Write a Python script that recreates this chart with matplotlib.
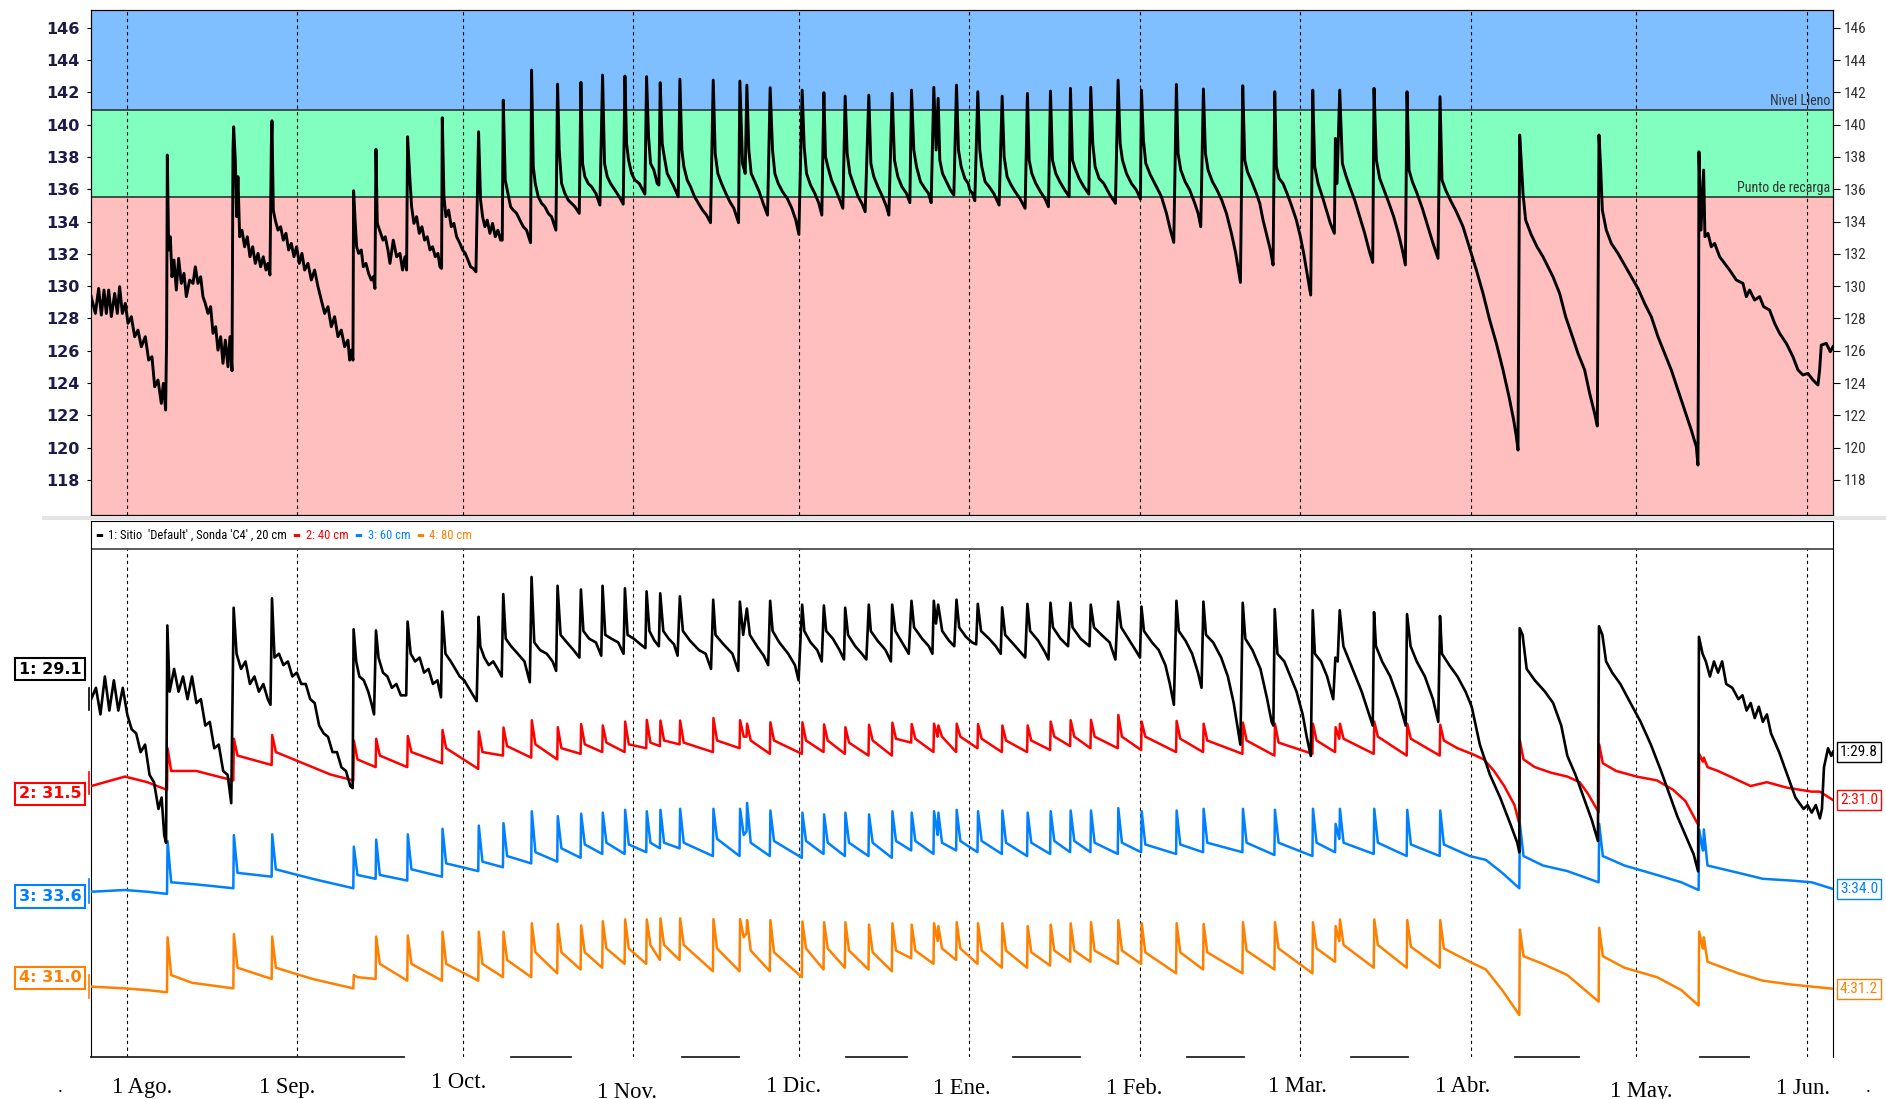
import numpy as np
import matplotlib
matplotlib.use("Agg")
import matplotlib.pyplot as plt
import matplotlib.dates as mdates
from matplotlib import font_manager
from matplotlib.lines import Line2D
from matplotlib.patches import Rectangle
from matplotlib.offsetbox import TextArea, HPacker, AnchoredOffsetbox

# ============== Data (days after 1 Aug 2019) ==============

START = np.datetime64("2019-08-01T00:00")
X_FIRST, X_LAST = -6.48, 309.8

FULL_LEVEL = 140.9      # Nivel Lleno
REFILL_LEVEL = 135.5    # Punto de recarga
TOP_TICKS = list(range(118, 147, 2))

# suma de perfiles (panel superior)
SUM_TRACE = [
    (-6.45, 129.35), (-5.69, 128.31), (-5.09, 129.86), (-4.60, 128.21), (-4.12, 129.76),
    (-3.70, 128.31), (-3.27, 129.76), (-2.79, 128.11), (-2.18, 129.55), (-1.70, 128.31),
    (-1.28, 129.97), (-0.79, 128.31), (-0.25, 128.93), (0.24, 127.70), (0.84, 128.11),
    (1.45, 126.87), (2.05, 127.28), (2.66, 126.25), (3.38, 126.87), (3.99, 125.42),
    (4.59, 125.63), (5.08, 123.77), (5.68, 124.19), (6.29, 122.74), (6.65, 123.98),
    (7.07, 122.33), (7.25, 126.87), (7.38, 138.12), (7.62, 132.24), (7.92, 133.06),
    (8.22, 130.58), (8.59, 131.62), (9.01, 129.76), (9.43, 131.72), (9.92, 130.17),
    (10.40, 130.79), (10.83, 129.35), (11.43, 130.38), (12.04, 130.17), (12.46, 131.20),
    (12.94, 130.17), (13.43, 130.58), (13.85, 129.35), (14.27, 128.93), (14.76, 128.31),
    (15.24, 128.73), (15.67, 127.08), (16.15, 127.49), (16.57, 126.04), (17.06, 126.87),
    (17.48, 125.22), (17.91, 126.66), (18.39, 125.01), (18.75, 126.87), (19.12, 124.76),
    (19.30, 138.43), (19.42, 139.87), (19.72, 137.81), (19.96, 134.30), (20.20, 136.78),
    (20.51, 133.06), (20.93, 133.47), (21.41, 132.44), (21.90, 133.06), (22.38, 131.82),
    (22.87, 132.44), (23.35, 131.41), (23.84, 132.03), (24.32, 131.20), (24.80, 131.82),
    (25.29, 131.00), (25.65, 131.41), (26.01, 130.69), (26.26, 138.63), (26.38, 140.24),
    (26.62, 134.71), (26.98, 134.09), (27.47, 133.47), (27.95, 133.68), (28.43, 132.85),
    (28.92, 133.27), (29.40, 132.24), (29.89, 132.65), (30.37, 131.82), (30.85, 132.44),
    (31.34, 131.41), (31.82, 132.03), (32.31, 131.00), (32.91, 131.41), (33.52, 130.38),
    (34.12, 131.00), (34.73, 129.97), (35.33, 129.14), (35.94, 128.31), (36.54, 128.73),
    (37.15, 127.49), (37.75, 128.11), (38.36, 126.87), (38.96, 127.28), (39.57, 126.25),
    (40.17, 126.66), (40.48, 125.42), (40.78, 126.04), (41.08, 125.42), (41.20, 135.91),
    (41.50, 133.89), (41.75, 132.44), (42.11, 132.03), (42.59, 132.24), (42.96, 131.20),
    (43.44, 131.41), (43.92, 130.79), (44.41, 130.38), (44.77, 130.58), (45.07, 129.86),
    (45.26, 138.47), (45.50, 133.89), (45.92, 133.47), (46.53, 132.85), (46.95, 133.06),
    (47.43, 132.24), (47.80, 131.41), (48.40, 132.85), (49.01, 131.82), (49.61, 132.03),
    (50.09, 131.00), (50.52, 131.82), (50.82, 131.00), (51.00, 139.25), (51.43, 136.57),
    (51.73, 134.92), (52.15, 133.89), (52.64, 134.30), (53.12, 133.27), (53.60, 133.68),
    (54.09, 132.85), (54.57, 133.06), (55.06, 132.24), (55.54, 132.44), (56.03, 131.82),
    (56.51, 132.03), (56.87, 131.20), (57.17, 131.10), (57.30, 140.43), (57.60, 135.54),
    (57.96, 134.30), (58.45, 134.71), (58.93, 133.68), (59.41, 133.89), (59.90, 133.06),
    (60.50, 132.65), (60.99, 132.24), (61.47, 132.03), (61.96, 131.62), (62.44, 131.20),
    (62.92, 131.10), (63.41, 130.89), (63.65, 135.33), (63.89, 139.56), (64.25, 135.33),
    (64.62, 134.30), (65.04, 133.68), (65.46, 134.09), (65.95, 133.27), (66.43, 133.89),
    (66.92, 133.06), (67.40, 133.47), (67.89, 132.85), (68.19, 132.85), (68.37, 141.52),
    (68.73, 136.57), (69.22, 135.74), (69.70, 134.92), (70.18, 134.71), (70.79, 134.51),
    (71.39, 134.09), (72.00, 133.68), (72.60, 133.47), (73.33, 132.69), (73.51, 143.38),
    (73.82, 137.40), (74.18, 136.36), (74.72, 135.54), (75.33, 135.13), (75.93, 134.92),
    (76.54, 134.51), (77.14, 134.30), (77.93, 133.47), (78.23, 142.51), (78.53, 138.43),
    (78.96, 136.36), (79.56, 135.74), (80.17, 135.33), (80.77, 135.13), (81.38, 134.92),
    (82.17, 134.51), (82.47, 142.62), (82.77, 137.60), (83.19, 136.78), (83.80, 136.36),
    (84.40, 136.16), (85.19, 135.74), (85.92, 135.02), (86.40, 143.07), (86.76, 137.60),
    (87.25, 136.78), (87.85, 136.36), (88.64, 135.95), (89.43, 135.54), (90.15, 135.08),
    (90.46, 143.01), (90.76, 138.84), (91.12, 137.81), (91.67, 136.98), (92.27, 136.57),
    (93.06, 136.36), (94.09, 135.70), (94.39, 142.97), (94.75, 139.25), (95.11, 137.60),
    (95.72, 137.19), (96.32, 136.36), (96.63, 136.26), (96.87, 142.60), (97.23, 138.84),
    (97.60, 138.02), (98.14, 136.98), (98.75, 136.57), (99.35, 136.16), (100.14, 135.54),
    (100.44, 142.82), (100.80, 138.43), (101.16, 137.40), (101.77, 136.57), (102.37, 136.16),
    (103.10, 135.54), (103.82, 135.13), (104.55, 134.71), (105.28, 134.40), (106.00, 133.93),
    (106.49, 142.76), (106.85, 138.22), (107.33, 136.98), (108.00, 136.36), (108.79, 135.74),
    (109.51, 135.23), (110.24, 134.82), (111.09, 133.93), (111.33, 142.70), (111.81, 137.60),
    (112.30, 136.98), (112.60, 142.45), (112.96, 138.43), (113.38, 136.98), (114.05, 136.47),
    (114.84, 135.85), (115.56, 135.13), (116.35, 134.40), (116.83, 142.29), (117.26, 138.43),
    (117.68, 136.98), (118.29, 136.36), (119.07, 135.85), (119.92, 135.44), (120.77, 134.82),
    (121.49, 134.09), (122.04, 133.21), (122.64, 142.14), (123.01, 138.63), (123.43, 136.98),
    (124.16, 136.26), (124.94, 135.74), (125.67, 135.13), (126.21, 134.40), (126.58, 141.98),
    (126.88, 138.02), (127.30, 137.40), (127.97, 136.57), (128.75, 135.95), (129.48, 135.33),
    (130.03, 134.82), (130.45, 141.77), (130.81, 138.22), (131.30, 136.98), (132.02, 136.26),
    (132.81, 135.54), (133.47, 135.13), (134.08, 134.61), (134.74, 141.83), (135.11, 137.60),
    (135.65, 136.78), (136.38, 136.16), (137.23, 135.54), (137.95, 134.92), (138.38, 134.40),
    (138.98, 141.94), (139.40, 137.81), (140.01, 136.78), (140.74, 136.16), (141.58, 135.74),
    (142.19, 135.17), (142.49, 142.14), (142.91, 138.43), (143.40, 137.40), (144.12, 136.47),
    (144.91, 136.05), (145.58, 135.74), (146.06, 135.17), (146.54, 142.31), (146.97, 138.43),
    (147.33, 141.63), (147.63, 137.81), (148.12, 136.98), (148.84, 136.47), (149.57, 135.95),
    (150.18, 135.64), (150.66, 142.45), (151.02, 138.43), (151.51, 137.40), (152.17, 136.67),
    (152.78, 136.36), (153.08, 135.95), (153.56, 135.74), (153.98, 135.29), (154.53, 142.04),
    (154.89, 138.43), (155.25, 137.40), (155.86, 136.47), (156.59, 136.16), (157.43, 135.74),
    (158.40, 135.02), (158.95, 141.77), (159.31, 138.02), (159.85, 136.78), (160.58, 136.26),
    (161.31, 135.85), (162.15, 135.44), (163.12, 134.82), (163.54, 141.94), (163.85, 137.81),
    (164.33, 136.98), (165.06, 136.36), (165.90, 135.85), (166.69, 135.44), (167.36, 134.92),
    (167.72, 142.08), (168.08, 137.81), (168.69, 136.98), (169.41, 136.47), (170.32, 135.95),
    (171.11, 135.54), (171.35, 142.25), (171.71, 137.81), (172.20, 137.29), (172.92, 136.67),
    (173.77, 136.16), (174.68, 135.70), (175.04, 142.31), (175.40, 138.84), (175.83, 137.40),
    (176.55, 136.67), (177.40, 136.36), (178.37, 135.74), (179.52, 135.13), (180.00, 142.76),
    (180.37, 138.84), (180.79, 137.81), (181.52, 136.98), (182.42, 136.36), (183.33, 135.95),
    (184.06, 135.39), (184.24, 142.14), (184.60, 139.05), (185.03, 137.60), (185.87, 136.88),
    (186.96, 136.16), (187.87, 135.54), (188.78, 134.51), (189.50, 133.47), (190.11, 132.71),
    (190.59, 142.49), (190.89, 138.22), (191.38, 137.19), (192.17, 136.47), (193.01, 135.95),
    (193.92, 135.13), (194.53, 134.51), (195.01, 133.68), (195.49, 142.21), (195.86, 138.22),
    (196.34, 137.19), (197.13, 136.47), (197.97, 135.95), (198.82, 135.33), (199.67, 134.51),
    (200.58, 133.27), (201.36, 132.03), (202.21, 130.23), (202.63, 142.41), (203.00, 137.81),
    (203.48, 137.09), (204.27, 136.47), (205.11, 135.74), (205.72, 135.13), (206.32, 134.09),
    (207.05, 133.06), (207.65, 132.24), (208.14, 131.31), (208.44, 142.04), (208.74, 137.40),
    (209.23, 136.67), (209.95, 136.36), (210.68, 135.74), (211.46, 135.02), (212.37, 134.09),
    (213.10, 133.06), (213.70, 132.03), (214.31, 130.79), (214.97, 129.45), (215.34, 142.14),
    (215.70, 137.40), (216.31, 136.36), (217.09, 135.54), (217.82, 134.71), (218.54, 133.89),
    (219.27, 133.27), (219.45, 139.15), (219.75, 136.36), (220.24, 142.14), (220.72, 137.60),
    (221.33, 136.88), (222.05, 136.16), (222.96, 135.33), (223.87, 134.30), (224.78, 133.27),
    (225.56, 132.24), (226.23, 131.47), (226.47, 142.25), (226.89, 137.81), (227.50, 136.67),
    (228.29, 135.95), (229.19, 135.13), (230.04, 134.30), (230.89, 133.27), (231.61, 132.24),
    (232.16, 131.31), (232.46, 142.04), (232.82, 137.19), (233.43, 136.47), (234.28, 135.74),
    (235.24, 134.82), (236.27, 133.68), (237.18, 132.65), (238.09, 131.72), (238.45, 141.73),
    (238.81, 136.57), (239.48, 135.95), (240.33, 135.33), (241.42, 134.61), (242.63, 133.68),
    (243.84, 132.34), (245.05, 131.00), (246.26, 129.55), (247.47, 127.90), (248.68, 126.46),
    (249.89, 124.81), (250.98, 123.15), (251.82, 121.71), (252.31, 120.68), (252.61, 119.85),
    (252.73, 127.70), (252.91, 139.36), (253.22, 137.60), (253.52, 135.74), (254.00, 134.09),
    (255.03, 133.17), (256.06, 132.44), (257.15, 131.82), (258.06, 131.20), (258.96, 130.58),
    (260.17, 129.55), (261.26, 128.11), (262.29, 127.08), (263.50, 125.84), (264.71, 124.81),
    (265.62, 123.36), (266.52, 122.12), (267.01, 121.34), (267.13, 128.52), (267.31, 139.36),
    (267.61, 137.40), (267.92, 134.71), (268.64, 133.47), (269.55, 132.65), (270.76, 132.03),
    (271.97, 131.31), (273.18, 130.58), (274.39, 129.86), (275.60, 128.93), (276.81, 128.11),
    (278.02, 126.87), (279.23, 125.84), (280.44, 124.81), (281.65, 123.57), (282.86, 122.33),
    (284.07, 121.09), (284.98, 120.06), (285.28, 118.92), (285.40, 128.52), (285.46, 138.32),
    (285.83, 133.47), (286.31, 137.19), (286.55, 133.06), (287.10, 133.27), (287.70, 132.44),
    (288.31, 132.65), (289.22, 131.82), (290.12, 131.41), (291.03, 131.00), (292.24, 130.38),
    (293.45, 130.17), (294.06, 129.35), (294.66, 129.76), (295.57, 129.14), (296.48, 129.35),
    (297.20, 128.73), (298.29, 128.52), (299.20, 127.70), (300.11, 127.08), (301.32, 126.46),
    (302.53, 125.63), (303.44, 124.81), (304.34, 124.50), (305.25, 124.60), (306.16, 124.19),
    (307.07, 123.88), (307.37, 124.81), (307.67, 126.35), (308.58, 126.46), (309.31, 125.94),
    (309.79, 126.25),
]

# sensor 1 (20 cm), panel inferior
S20_TRACE = [
    (-6.45, 33.09), (-5.58, 33.80), (-4.77, 32.14), (-3.96, 34.51), (-3.15, 32.38),
    (-2.33, 34.27), (-1.52, 32.38), (-0.71, 33.80), (0.10, 32.14), (0.91, 31.20),
    (1.72, 30.96), (2.53, 29.78), (3.34, 30.25), (4.15, 28.36), (4.96, 27.89),
    (5.77, 26.23), (6.34, 26.94), (6.82, 24.58), (7.15, 24.11), (7.38, 37.70),
    (7.80, 33.56), (8.61, 34.98), (9.42, 33.56), (10.23, 34.51), (11.04, 33.09),
    (11.85, 34.51), (12.66, 32.85), (13.47, 33.09), (14.28, 31.44), (15.09, 31.67),
    (15.90, 30.02), (16.71, 30.25), (17.52, 28.60), (18.33, 28.36), (18.98, 26.59),
    (19.42, 38.81), (19.95, 35.93), (20.76, 34.98), (21.57, 35.45), (22.38, 34.04),
    (23.19, 34.51), (24.00, 33.56), (24.81, 34.04), (25.62, 33.09), (26.11, 32.74),
    (26.38, 39.40), (26.84, 35.69), (27.65, 35.93), (28.46, 35.22), (29.27, 35.45),
    (30.08, 34.51), (30.89, 34.75), (31.70, 34.04), (32.51, 34.04), (33.32, 33.09),
    (34.13, 32.85), (34.94, 31.44), (35.75, 30.96), (36.56, 30.73), (37.37, 29.78),
    (38.18, 29.78), (38.99, 28.83), (39.81, 28.60), (40.62, 27.65), (41.02, 27.53),
    (41.20, 37.46), (41.67, 35.45), (42.24, 34.51), (43.05, 34.27), (43.86, 33.56),
    (44.42, 32.85), (44.91, 32.14), (45.26, 37.39), (45.72, 35.69), (46.53, 34.75),
    (47.34, 34.51), (48.15, 33.80), (48.96, 34.04), (49.77, 33.33), (50.75, 33.33),
    (51.00, 37.94), (51.56, 35.93), (52.37, 35.45), (53.18, 35.69), (53.99, 34.75),
    (54.80, 34.98), (55.61, 34.04), (56.42, 34.27), (57.07, 33.21), (57.30, 38.57),
    (57.88, 35.93), (58.85, 35.45), (59.66, 34.98), (60.47, 34.51), (61.28, 34.27),
    (62.09, 33.80), (62.90, 33.33), (63.55, 32.97), (63.89, 38.24), (64.20, 36.40),
    (64.93, 35.69), (65.74, 35.22), (66.55, 35.45), (67.36, 34.98), (68.09, 34.51),
    (68.37, 39.66), (68.82, 36.87), (69.79, 36.40), (71.01, 35.93), (72.22, 35.45),
    (73.19, 34.15), (73.51, 40.73), (74.00, 36.64), (75.06, 36.16), (76.27, 35.93),
    (77.33, 35.45), (77.97, 34.86), (78.23, 40.18), (78.78, 37.11), (79.92, 36.64),
    (81.13, 36.16), (82.19, 35.69), (82.47, 39.95), (82.92, 37.35), (83.97, 36.87),
    (85.19, 36.64), (86.16, 35.81), (86.40, 40.18), (86.89, 37.11), (88.02, 36.87),
    (89.24, 36.64), (90.21, 35.93), (90.46, 40.02), (90.94, 37.11), (92.08, 36.87),
    (93.29, 36.52), (94.18, 36.28), (94.39, 39.83), (94.91, 37.35), (95.81, 36.75),
    (96.62, 36.40), (96.87, 39.71), (97.43, 37.35), (98.40, 36.87), (99.37, 36.52),
    (100.02, 35.81), (100.44, 39.52), (100.99, 37.35), (102.28, 36.75), (103.90, 36.16),
    (105.12, 35.93), (106.09, 34.98), (106.49, 39.31), (106.90, 37.11), (108.36, 36.52),
    (109.98, 35.93), (111.04, 34.86), (111.33, 39.19), (111.93, 37.11), (112.60, 38.76),
    (113.14, 37.11), (114.44, 36.40), (115.66, 35.81), (116.47, 35.22), (116.83, 39.24),
    (117.28, 37.35), (118.49, 36.64), (120.11, 35.93), (121.33, 35.22), (121.98, 34.27),
    (122.64, 39.00), (123.03, 37.35), (124.16, 36.64), (125.38, 36.16), (126.19, 35.45),
    (126.58, 38.95), (127.00, 37.35), (128.22, 36.87), (129.43, 36.16), (130.24, 35.57),
    (130.45, 38.81), (130.97, 37.11), (132.27, 36.40), (133.48, 35.93), (134.29, 35.57),
    (134.74, 39.00), (135.10, 37.35), (136.32, 36.75), (137.78, 36.16), (138.75, 35.45),
    (138.98, 39.00), (139.56, 37.35), (140.78, 36.64), (141.99, 35.93), (142.49, 39.24),
    (142.96, 37.58), (144.42, 36.87), (145.64, 36.40), (146.29, 35.93), (146.54, 39.24),
    (146.94, 37.82), (147.33, 39.00), (148.07, 37.35), (149.29, 36.75), (150.26, 36.40),
    (150.66, 39.31), (151.15, 37.58), (152.37, 36.99), (153.50, 36.64), (154.23, 36.52),
    (154.53, 39.05), (155.12, 37.35), (156.58, 36.87), (157.79, 36.40), (158.69, 35.93),
    (158.95, 38.83), (159.50, 37.11), (161.04, 36.52), (162.25, 36.04), (163.14, 35.69),
    (163.54, 39.05), (164.03, 37.35), (165.49, 36.75), (166.71, 36.04), (167.36, 35.57),
    (167.72, 39.12), (168.17, 37.58), (169.55, 36.87), (170.92, 36.40), (171.35, 39.12),
    (171.73, 37.58), (173.19, 36.87), (174.81, 36.40), (175.04, 39.00), (175.62, 37.58),
    (177.00, 37.11), (178.46, 36.64), (179.51, 35.57), (180.00, 39.19), (180.57, 37.58),
    (181.86, 36.87), (183.16, 36.16), (183.97, 35.69), (184.24, 38.88), (184.70, 37.35),
    (186.16, 36.64), (187.38, 36.16), (188.59, 35.22), (189.40, 34.04), (190.13, 32.74),
    (190.59, 39.24), (191.02, 37.35), (192.24, 36.75), (193.45, 35.93), (194.50, 34.75),
    (195.15, 33.80), (195.49, 39.19), (195.96, 37.11), (197.26, 36.64), (198.72, 35.69),
    (199.93, 34.51), (200.99, 32.85), (201.64, 31.44), (202.20, 30.25), (202.63, 39.12),
    (203.10, 36.87), (204.39, 36.16), (205.85, 34.98), (207.07, 33.09), (207.88, 31.67),
    (208.19, 31.44), (208.44, 38.72), (208.93, 35.93), (210.18, 35.45), (211.29, 34.51),
    (212.40, 33.56), (213.51, 32.14), (214.25, 30.73), (214.99, 29.54), (215.34, 38.65),
    (215.73, 35.93), (216.84, 35.45), (217.95, 34.51), (219.06, 33.09), (219.45, 35.69),
    (219.87, 35.45), (220.24, 38.65), (220.91, 36.40), (222.02, 35.45), (223.12, 34.51),
    (224.23, 33.56), (225.34, 32.38), (226.23, 31.44), (226.47, 38.53), (226.82, 36.40),
    (227.93, 35.45), (229.41, 34.51), (230.89, 33.09), (232.22, 31.44), (232.46, 38.41),
    (233.11, 36.40), (234.22, 35.45), (235.70, 34.51), (237.17, 33.09), (238.13, 31.67),
    (238.45, 38.29), (238.80, 35.93), (240.13, 35.22), (241.61, 34.51), (243.09, 33.56),
    (244.20, 32.62), (245.68, 30.25), (247.52, 28.36), (249.37, 26.94), (251.22, 25.29),
    (252.48, 24.11), (252.85, 23.52), (252.91, 37.53), (253.44, 37.11), (254.18, 34.98),
    (255.66, 34.27), (257.51, 33.56), (258.99, 32.85), (260.46, 31.44), (261.57, 29.54),
    (263.05, 28.36), (264.53, 26.94), (266.01, 25.53), (267.12, 24.23), (267.31, 37.65),
    (267.93, 37.11), (268.60, 35.45), (269.71, 34.75), (271.19, 34.04), (273.03, 32.85),
    (274.88, 31.67), (276.73, 30.25), (278.58, 28.60), (280.06, 27.18), (281.54, 25.76),
    (283.02, 24.58), (284.49, 23.40), (285.31, 22.33), (285.46, 36.99), (286.12, 35.93),
    (286.71, 35.45), (287.46, 34.51), (288.19, 35.45), (288.93, 34.75), (289.67, 35.45),
    (290.41, 34.04), (291.52, 33.80), (292.63, 33.09), (293.37, 33.33), (294.11, 32.38),
    (294.85, 32.85), (295.59, 31.91), (296.33, 32.62), (297.06, 31.67), (297.80, 32.14),
    (298.54, 30.96), (300.02, 29.78), (301.50, 28.36), (302.98, 26.94), (304.46, 26.23),
    (305.20, 26.47), (305.94, 26.00), (306.68, 26.47), (307.42, 25.64), (307.79, 26.23),
    (308.16, 28.83), (308.90, 30.02), (309.49, 29.54), (309.80, 29.80),
]

# riegos: dias de cada pico
EVENT_DAYS = [
    7.38, 19.42, 26.38, 41.20, 45.26, 51.00, 57.30, 63.89, 68.37, 73.51,
    78.23, 82.47, 86.40, 90.46, 94.39, 96.87, 100.44, 106.49, 111.33, 112.60,
    116.83, 122.64, 126.58, 130.45, 134.74, 138.98, 142.49, 146.54, 147.33, 150.66,
    154.53, 158.95, 163.54, 167.72, 171.35, 175.04, 180.00, 184.24, 190.59, 195.49,
    202.63, 208.44, 215.34, 219.45, 220.24, 226.47, 232.46, 238.45, 252.91, 267.31,
    285.46, 286.31,
]

# sensor 2 (40 cm): valor antes del pico, pico, y poco despues
S40_LOW = [
    31.29, 31.56, 32.00, 31.56, 31.94, 31.94, 32.05, 31.89, 32.27, 32.21,
    32.16, 32.32, 32.37, 32.37, 32.48, 32.54, 32.59, 32.37, 32.48, 32.81,
    32.32, 32.32, 32.37, 32.32, 32.27, 32.27, 32.64, 32.37, 32.86, 32.37,
    32.48, 32.37, 32.37, 32.43, 32.54, 32.48, 32.48, 32.43, 32.37, 32.37,
    32.32, 32.27, 32.32, 32.37, 32.81, 32.32, 32.27, 32.27, 30.32, 30.65,
    30.27, 32.10,
]
S40_PEAK = [
    32.48, 32.75, 32.86, 32.70, 32.75, 32.83, 33.00, 32.96, 33.07, 33.28,
    33.08, 33.17, 33.13, 33.24, 33.29, 33.27, 33.27, 33.34, 33.28, 33.18,
    33.22, 33.22, 33.16, 33.08, 33.15, 33.21, 33.17, 33.18, 33.13, 33.18,
    33.17, 33.13, 33.13, 33.24, 33.28, 33.29, 33.43, 33.24, 33.26, 33.18,
    33.21, 33.18, 33.18, 33.08, 33.18, 33.24, 33.18, 33.15, 32.70, 32.59,
    32.32, 32.21,
]
S40_AFTER = [
    31.83, 32.27, 32.37, 32.16, 32.27, 32.37, 32.48, 32.37, 32.54, 32.59,
    32.48, 32.59, 32.64, 32.59, 32.64, 32.70, 32.64, 32.70, 32.81, 32.70,
    32.70, 32.70, 32.70, 32.64, 32.70, 32.75, 32.75, 32.81, 32.81, 32.81,
    32.75, 32.70, 32.70, 32.81, 32.81, 32.81, 32.81, 32.81, 32.75, 32.70,
    32.70, 32.64, 32.70, 32.75, 32.75, 32.81, 32.75, 32.70, 32.16, 32.05,
    32.10, 31.94,
]
S40_EXTRA_DAYS = [
    -6.45, -0.31, 3.74, 12.66, 15.09, 33.73, 36.97, 241.61, 244.20, 246.41,
    248.26, 250.11, 251.96, 255.66, 258.61, 261.57, 263.79, 265.27, 270.44, 274.14,
    277.84, 280.79, 283.01, 288.93, 292.63, 294.84, 297.80, 301.50, 305.93, 307.41,
    309.80,
]
S40_EXTRA_VALS = [
    31.40, 31.67, 31.51, 31.83, 31.73, 31.94, 31.73, 32.48, 32.32, 32.16,
    31.83, 31.40, 30.86, 31.94, 31.78, 31.67, 31.51, 31.19, 31.83, 31.67,
    31.56, 31.29, 30.97, 31.83, 31.56, 31.40, 31.51, 31.35, 31.24, 31.24,
    31.00,
]

# sensor 3 (60 cm)
S60_LOW = [
    33.86, 34.02, 34.35, 34.02, 34.29, 34.24, 34.35, 34.51, 34.62, 34.73,
    34.78, 34.89, 35.00, 35.00, 35.05, 35.16, 35.16, 34.94, 34.94, 35.64,
    34.94, 34.89, 35.00, 34.94, 34.94, 34.89, 35.10, 35.00, 35.64, 35.10,
    35.05, 35.00, 34.94, 35.00, 35.05, 35.05, 35.00, 35.05, 35.00, 35.05,
    35.05, 34.97, 34.94, 35.05, 35.43, 35.00, 34.94, 34.94, 34.02, 34.19,
    33.97, 35.10,
]
S60_PEAK = [
    35.37, 35.54, 35.56, 35.21, 35.41, 35.56, 35.72, 35.81, 35.88, 36.22,
    36.08, 36.15, 36.18, 36.26, 36.22, 36.26, 36.29, 36.29, 36.29, 36.46,
    36.24, 36.18, 36.13, 36.18, 36.13, 36.22, 36.18, 36.22, 36.18, 36.26,
    36.22, 36.24, 36.18, 36.22, 36.24, 36.24, 36.31, 36.22, 36.24, 36.29,
    36.29, 36.26, 36.29, 35.86, 36.29, 36.29, 36.26, 36.24, 35.86, 35.86,
    35.70, 35.70,
]
S60_AFTER = [
    34.19, 34.46, 34.56, 34.40, 34.40, 34.56, 34.73, 34.78, 34.94, 35.05,
    35.16, 35.27, 35.32, 35.27, 35.32, 35.32, 35.32, 35.43, 35.54, 35.32,
    35.37, 35.37, 35.32, 35.32, 35.32, 35.37, 35.37, 35.54, 35.32, 35.37,
    35.37, 35.32, 35.32, 35.37, 35.37, 35.32, 35.32, 35.27, 35.27, 35.32,
    35.32, 35.32, 35.32, 35.43, 35.32, 35.32, 35.27, 35.27, 34.94, 34.94,
    35.10, 34.67,
]
S60_EXTRA_DAYS = [
    -6.45, -0.31, 3.74, 12.66, 33.73, 243.83, 246.78, 249.74, 257.13, 261.57,
    271.92, 277.84, 282.27, 292.63, 297.06, 302.23, 305.93, 309.80,
]
S60_EXTRA_VALS = [
    33.92, 33.97, 33.92, 34.13, 34.29, 34.94, 34.83, 34.46, 34.67, 34.51,
    34.67, 34.40, 34.19, 34.46, 34.29, 34.24, 34.19, 34.00,
]

# sensor 4 (80 cm)
S80_LOW = [
    31.10, 31.21, 31.48, 31.21, 31.48, 31.43, 31.43, 31.43, 31.53, 31.53,
    31.64, 31.75, 31.80, 31.91, 31.91, 32.02, 32.02, 31.70, 31.70, 32.78,
    31.70, 31.53, 31.75, 31.80, 31.75, 31.70, 32.07, 31.91, 32.67, 32.02,
    31.91, 31.80, 31.80, 31.86, 31.97, 31.97, 31.91, 31.91, 31.64, 31.75,
    31.64, 31.75, 31.64, 31.97, 32.56, 31.80, 31.80, 31.80, 30.45, 30.83,
    30.72, 32.35,
]
S80_PEAK = [
    32.67, 32.76, 32.69, 31.59, 32.69, 32.72, 32.83, 32.83, 32.83, 33.07,
    33.05, 33.01, 33.13, 33.18, 33.18, 33.21, 33.21, 33.19, 33.19, 33.16,
    33.16, 33.12, 33.10, 33.10, 33.03, 33.07, 33.03, 33.07, 32.99, 33.10,
    33.07, 33.07, 32.99, 33.03, 33.07, 33.10, 33.16, 33.07, 33.07, 33.05,
    33.10, 33.10, 33.10, 32.99, 33.18, 33.18, 33.16, 33.16, 32.89, 32.94,
    32.83, 32.67,
]
S80_AFTER = [
    31.59, 31.80, 31.80, 31.53, 31.91, 31.91, 31.91, 31.91, 32.02, 32.24,
    32.24, 32.24, 32.35, 32.35, 32.45, 32.45, 32.45, 32.35, 32.67, 32.29,
    32.24, 32.35, 32.35, 32.29, 32.24, 32.29, 32.29, 32.56, 32.35, 32.35,
    32.29, 32.29, 32.24, 32.29, 32.29, 32.29, 32.29, 32.24, 32.24, 32.24,
    32.29, 32.35, 32.35, 32.56, 32.45, 32.45, 32.40, 32.35, 32.13, 32.13,
    32.35, 31.97,
]
S80_EXTRA_DAYS = [
    -6.45, -0.31, 3.74, 11.85, 33.73, 243.83, 246.78, 249.74, 257.13, 261.57,
    271.92, 277.84, 282.27, 292.63, 297.06, 302.23, 309.80,
]
S80_EXTRA_VALS = [
    31.26, 31.21, 31.16, 31.37, 31.48, 31.97, 31.75, 31.16, 31.91, 31.59,
    31.80, 31.53, 31.16, 31.64, 31.43, 31.32, 31.20,
]

LEFT_READOUT = [29.1, 31.5, 33.6, 31.0]
LEGEND_TEXT = ["1: Sitio  'Default' , Sonda 'C4' , 20 cm", "2: 40 cm", "3: 60 cm", "4: 80 cm"]
MONTH_LABELS = ["1 Ago.", "1 Sep.", "1 Oct.", "1 Nov.", "1 Dic.", "1 Ene.",
                "1 Feb.", "1 Mar.", "1 Abr.", "1 May.", "1 Jun."]

# ============== Style ==============

W, H = 1886, 1099
BAND_COLORS = ["#80BFFF", "#80FFBF", "#FFBFBF"]
SERIES_COLORS = ["#000000", "#FF0000", "#0080FF", "#FF8000"]
# y range of each sensor's own (hidden) axis
SERIES_YLIM = [(10.72, 44.23), (23.66, 38.97), (29.20, 44.51), (29.25, 44.56)]
DASH = (0, (3, 3))

installed = {f.name for f in font_manager.fontManager.ttflist}
NARROW = next((n for n in ["Liberation Sans Narrow", "DejaVu Sans Condensed",
                           "Roboto Condensed", "Open Sans Condensed"] if n in installed), None)
NS = 1.0
if NARROW is None:
    NARROW, NS = "DejaVu Sans", 0.8
SERIF = "Liberation Serif"


def to_dates(days):
    secs = np.round(np.asarray(days, dtype=float) * 86400).astype(np.int64)
    return START + secs.astype("timedelta64[s]")


def rect(left, top, right, bottom):
    return [left / W, 1 - bottom / H, (right - left) / W, (bottom - top) / H]


def spike_trace(low, peak, after, extra_days, extra_vals):
    d = list(extra_days)
    v = list(extra_vals)
    for t, a, b, c in zip(EVENT_DAYS, low, peak, after):
        d += [t - 0.06, t + 0.04, t + 0.7]
        v += [a, b, c]
    order = np.argsort(d)
    return np.array(d)[order], np.array(v)[order]


XLIM = to_dates([X_FIRST, X_LAST])
MONTHS = np.arange(np.datetime64("2019-08"), np.datetime64("2020-07")).astype("datetime64[D]")

fig = plt.figure(figsize=(W / 100, H / 100), dpi=100)
fig.patch.set_facecolor("white")

# ============== Top panel ==============
ax = fig.add_axes(rect(91, 10.5, 1833, 515))
ytop, ybot = 147.07, 115.83
ax.axhspan(FULL_LEVEL, ytop, color=BAND_COLORS[0], lw=0, zorder=0)
ax.axhspan(REFILL_LEVEL, FULL_LEVEL, color=BAND_COLORS[1], lw=0, zorder=0)
ax.axhspan(ybot, REFILL_LEVEL, color=BAND_COLORS[2], lw=0, zorder=0)
ax.axhline(FULL_LEVEL, color="#333333", lw=1.2, zorder=1)
ax.axhline(REFILL_LEVEL, color="#333333", lw=1.2, zorder=1)

d, v = zip(*SUM_TRACE)
ax.plot(to_dates(d), v, color="black", lw=2.1, zorder=3)
ax.set_xlim(XLIM)
ax.set_ylim(ybot, ytop)
ax.xaxis.set_major_locator(mdates.MonthLocator())
ax.set_axisbelow(True)
ax.grid(axis="x", color="black", linestyle=DASH, lw=0.8)
ax.tick_params(axis="x", length=0, labelbottom=False)
ax.set_yticks(TOP_TICKS)
ax.set_yticklabels([str(t) for t in TOP_TICKS], fontweight="bold", fontsize=11.5, color="#1b1b45")
ax.tick_params(axis="y", direction="out", length=3, pad=5)

axr = ax.twinx()
axr.set_ylim(ybot, ytop)
axr.set_yticks(TOP_TICKS)
axr.set_yticklabels([str(t) for t in TOP_TICKS], family=NARROW, fontsize=11 * NS, color="#303030")
axr.tick_params(axis="y", direction="out", length=5, pad=3)

ax.annotate("Nivel Lleno", xy=(1, FULL_LEVEL), xycoords=("axes fraction", "data"),
            xytext=(-2, 1.5), textcoords="offset points", ha="right", va="bottom",
            family=NARROW, fontsize=10 * NS, color="#333333")
ax.annotate("Punto de recarga", xy=(1, REFILL_LEVEL), xycoords=("axes fraction", "data"),
            xytext=(-2, 1.5), textcoords="offset points", ha="right", va="bottom",
            family=NARROW, fontsize=10 * NS, color="#333333")

# gray strip between panels
fig.add_artist(Rectangle((42 / W, 1 - 519.5 / H), (W - 42) / W, 4 / H,
                         transform=fig.transFigure, color="#e4e4e4", lw=0))

# ============== Bottom panel ==============
SEP = (1057 - 549) / (1057 - 521)
bx = fig.add_axes(rect(91, 521, 1833, 1057))
bx.set_xlim(XLIM)
bx.set_ylim(0, 1)
bx.set_xticks([])
bx.set_yticks([])
bx.spines["bottom"].set_visible(False)
for m in MONTHS:
    bx.axvline(m, ymin=0, ymax=SEP, color="black", linestyle=DASH, lw=0.8)
bx.axhline(SEP, color="#404040", lw=1.2)

# legend strip
items = []
for txt, col in zip(LEGEND_TEXT, SERIES_COLORS):
    items.append(TextArea("\u25ac", textprops=dict(color=col, fontsize=6, family="DejaVu Sans")))
    items.append(TextArea(txt, textprops=dict(color=col, fontsize=9 * NS, family=NARROW)))
pack = HPacker(children=items, align="center", pad=0, sep=4)
leg = AnchoredOffsetbox(loc="center left", child=pack, frameon=False, pad=0, borderpad=0,
                        bbox_to_anchor=(95 / W, 1 - 535.5 / H), bbox_transform=fig.transFigure)
bx.add_artist(leg)

traces = [
    tuple(np.array(c) for c in zip(*S20_TRACE)),
    spike_trace(S40_LOW, S40_PEAK, S40_AFTER, S40_EXTRA_DAYS, S40_EXTRA_VALS),
    spike_trace(S60_LOW, S60_PEAK, S60_AFTER, S60_EXTRA_DAYS, S60_EXTRA_VALS),
    spike_trace(S80_LOW, S80_PEAK, S80_AFTER, S80_EXTRA_DAYS, S80_EXTRA_VALS),
]

for k in [3, 2, 1, 0]:
    days, vals = traces[k]
    col = SERIES_COLORS[k]
    sa = fig.add_axes(rect(91, 521, 1833, 1057), label=f"s{k}", facecolor="none")
    sa.plot(to_dates(days), vals, color=col, lw=1.8 if k else 1.9)
    sa.set_xlim(XLIM)
    sa.set_ylim(*SERIES_YLIM[k])
    sa.axis("off")
    sa.annotate(f"{k + 1}:{vals[-1]:.1f}", xy=(1, vals[-1]), xycoords=("axes fraction", "data"),
                xytext=(5, 0), textcoords="offset points", ha="left", va="center",
                family=NARROW, fontsize=11 * NS, color=col, annotation_clip=False,
                bbox=dict(boxstyle="square,pad=0.2", fc="white", ec=col, lw=1.0))

# left read-outs
for k, (val, yc) in enumerate(zip(LEFT_READOUT, [669, 794, 896.5, 978])):
    col = SERIES_COLORS[k]
    fig.text(50 / W, 1 - yc / H, f"{k + 1}: {val:.1f}", ha="center", va="center",
             fontsize=11.5, fontweight="bold", color=col,
             bbox=dict(boxstyle="square,pad=0.22", fc="white", ec=col, lw=1.5))
for col, (y0, y1) in zip(SERIES_COLORS, [(688, 710), (772, 794), (879, 903), (975, 998)]):
    fig.add_artist(Line2D([88.5 / W] * 2, [1 - y0 / H, 1 - y1 / H], color=col, lw=1.2))

# broken baseline
for a, b in [(91, 404), (511, 571), (682, 739), (846, 907), (1013, 1080),
             (1187, 1244), (1351, 1408), (1515, 1579), (1700, 1749)]:
    fig.add_artist(Line2D([a / W, b / W], [1 - 1057 / H] * 2, color="#222222", lw=1.3))

# month labels
NUDGE = [(15, 31), (-10, 30), (-4, 26), (-6, 35), (-5, 30), (-8, 32),
         (-6, 32), (-2, 29), (-8, 30), (5, 34), (-4, 31)]
for m, lab, (dx, dy) in zip(MONTHS, MONTH_LABELS, NUDGE):
    bx.annotate(lab, xy=(m, 0), xycoords=("data", "axes fraction"),
                xytext=(dx * 0.72, -dy * 0.72), textcoords="offset points",
                ha="center", va="center", family=SERIF, fontsize=16.3, annotation_clip=False)
fig.text(60 / W, 1 - 1087 / H, ".", family=SERIF, fontsize=14, ha="center", va="center")
fig.text(1868 / W, 1 - 1087 / H, ".", family=SERIF, fontsize=14, ha="center", va="center")

fig.savefig("out.png", dpi=100)
